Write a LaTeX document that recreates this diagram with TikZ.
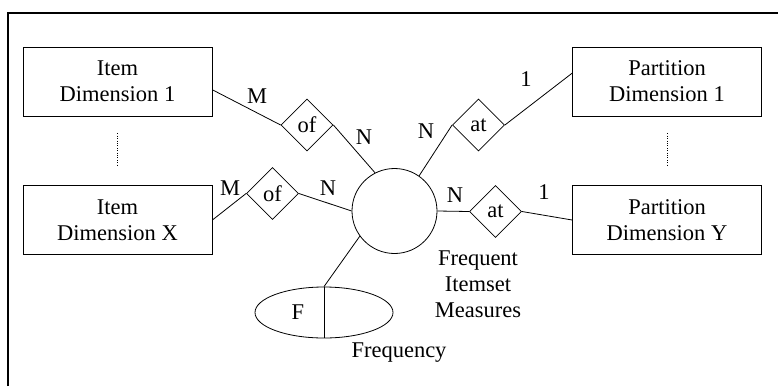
\documentclass[tikz,border=0pt]{standalone}
\usepackage{fontspec}
\setmainfont{Liberation Serif}
\usetikzlibrary{shapes.geometric}
\begin{document}
\begin{tikzpicture}[x=1pt,y=-1pt,
  every node/.style={font=\fontsize{22.5}{26}\selectfont},
  ent/.style={draw,line width=0.8pt,minimum width=189pt,minimum height=69pt,align=center,inner sep=0pt},
  rel/.style={draw,line width=0.8pt,diamond,aspect=1,minimum size=52pt,inner sep=0pt},
  lab/.style={inner sep=0pt},
  conn/.style={line width=0.8pt},
  dots/.style={line width=0.8pt,dash pattern=on 1pt off 1.4pt}]
\useasboundingbox (0,0) rectangle (778,386);
\draw[line width=1.3pt] (8,386) -- (8,13) -- (778,13);
% entities
\node[ent] (item1) at (117.5,81.5) {Item\\Dimension 1};
\node[ent] (itemX) at (117.5,220) {Item\\Dimension X};
\node[ent] (part1) at (667,81.5) {Partition\\Dimension 1};
\node[ent] (partY) at (667,220) {Partition\\Dimension Y};
% relationships
\node[rel] (of1) at (307,125) {of};
\node[rel] (of2) at (272.5,193.5) {of};
\node[rel] (at1) at (478.5,125) {at};
\node[rel] (at2) at (495.5,211.5) {at};
% fact
\node[draw,line width=0.8pt,circle,minimum size=85pt,inner sep=0pt] (fact) at (394.5,211) {};
\node[draw,line width=0.8pt,ellipse,minimum width=138pt,minimum height=51pt,inner sep=0pt] (freq) at (324,312.5) {};
\draw[conn] (freq.north) -- (freq.south);
\node[lab] (F) at (298,312) {F};
\node[lab,anchor=base] (freqlab) at (399,357) {Frequency};
\node[lab,align=center] (factlab) at (478,284.5) {Frequent\\Itemset\\Measures};
% connectors
\draw[conn] (item1.-5.7) -- (of1.west);
\draw[conn] (of1.east) -- (fact.117);
\draw[conn] (itemX.east) -- (of2.west);
\draw[conn] (of2.east) -- (fact.west);
\draw[conn] (fact.216) -- (freq.north);
\draw[conn] (fact.55) -- (at1.west);
\draw[conn] (at1.east) -- (part1.175.4);
\draw[conn] (fact.east) -- (at2.west);
\draw[conn] (at2.east) -- (partY.west);
% cardinalities
\node[lab] (m1) at (257,96) {M};
\node[lab] (n1) at (364,137) {N};
\node[lab] (m2) at (230,188) {M};
\node[lab] (n2) at (328,188) {N};
\node[lab] (n3) at (426,131) {N};
\node[lab] (o1) at (526,79) {1};
\node[lab] (n4) at (455,195) {N};
\node[lab] (o2) at (544,192) {1};
% ellipsis
\draw[dots] ([yshift=-17pt]item1.south) -- ([yshift=20pt]itemX.north);
\draw[dots] ([yshift=-17pt]part1.south) -- ([yshift=20pt]partY.north);
\end{tikzpicture}
\end{document}
